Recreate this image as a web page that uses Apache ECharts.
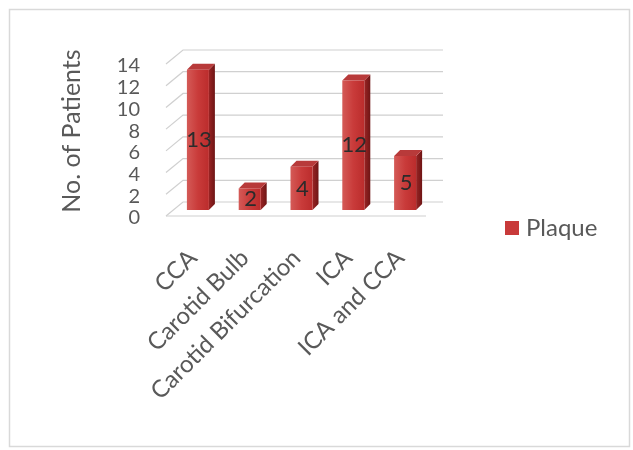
<!DOCTYPE html>
<html>
<head>
<meta charset="utf-8">
<script src="https://cdn.jsdelivr.net/npm/echarts@6/dist/echarts.min.js"></script>
<style>
html,body{margin:0;padding:0;background:#fff;}
#chart{width:633px;height:450px;}
</style>
</head>
<body>
<div id="chart"></div>
<script>
const categories = ['CCA', 'Carotid Bulb', 'Carotid Bifurcation', 'ICA', 'ICA and CCA'];
const plaqueValues = [13, 2, 4, 12, 5];
const yTicks = [0, 2, 4, 6, 8, 10, 12, 14];
const seriesName = 'Plaque';
const yAxisTitle = 'No. of Patients';

const FONT = 'Lato';
const TEXT_COLOR = '#595959';

const chart = echarts.init(document.getElementById('chart'));

function renderGrid(params, api) {
  const v = api.value(1);
  const cs = params.coordSys;
  const y = api.coord([0, v])[1] - 2;
  const gx = cs.x, W = cs.width;
  const dx = 17, dy = 14;
  const children = [{
    type: 'polyline',
    shape: { points: [[gx, y], [gx + dx, y - dy], [gx + dx + W, y - dy]] },
    style: { stroke: '#d0d0d0', lineWidth: 1.2, fill: null }
  }];
  if (v === 0) {
    children.push({
      type: 'line',
      shape: { x1: gx, y1: y, x2: gx + W, y2: y },
      style: { stroke: '#d0d0d0', lineWidth: 1.2 }
    });
  }
  return { type: 'group', children: children, silent: true };
}

function renderBar(params, api) {
  const cat = api.value(0), v = api.value(1);
  const top = api.coord([cat, v]);
  const base = api.coord([cat, 0]);
  const w = 22, dx = 6, dy = 6;
  const x0 = top[0] - w / 2, x1 = top[0] + w / 2;
  const yt = top[1], yb = base[1];
  return {
    type: 'group',
    children: [
      { type: 'polygon', shape: { points: [[x1, yt], [x1 + dx, yt - dy], [x1 + dx, yb - dy], [x1, yb]] },
        style: { fill: new echarts.graphic.LinearGradient(0, 0, 1, 0, [{offset: 0, color: '#9a2424'}, {offset: 1, color: '#6e1515'}]) } },
      { type: 'polygon', shape: { points: [[x0, yt], [x0 + dx, yt - dy], [x1 + dx, yt - dy], [x1, yt]] },
        style: { fill: '#b83a3a' } },
      { type: 'rect', shape: { x: x0, y: yt, width: w, height: yb - yt },
        style: { fill: new echarts.graphic.LinearGradient(0, 0, 1, 0, [{offset: 0, color: '#d45a57'}, {offset: 0.5, color: '#c93b3a'}, {offset: 1, color: '#bb2c2c'}]) } },
      { type: 'text', style: { text: String(v), x: top[0] + 1, y: (yt + yb) / 2, align: 'center', verticalAlign: 'middle',
        font: '22px ' + FONT, fill: '#2b2b2b' } }
    ]
  };
}

const option = {
  animation: false,
  backgroundColor: '#fff',
  graphic: [
    { type: 'rect', shape: { x: 9.5, y: 9.5, width: 620, height: 437 },
      style: { fill: null, stroke: '#d9d9d9', lineWidth: 1.5 }, z: -1 },
    { type: 'text', x: 72, y: 131, rotation: Math.PI / 2,
      style: { text: yAxisTitle, align: 'center', verticalAlign: 'middle', font: '25px ' + FONT, fill: TEXT_COLOR } }
  ],
  legend: {
    data: [seriesName], icon: 'rect', itemWidth: 14, itemHeight: 14,
    left: 505, top: 216, itemGap: 5, padding: 0,
    textStyle: { fontFamily: FONT, fontSize: 24, color: TEXT_COLOR, padding: [0, 0, 0, 2] }
  },
  grid: [
    { left: 166, top: 66, width: 260, height: 152 },
    { left: 172, top: 59, width: 259, height: 151 }
  ],
  xAxis: [
    { gridIndex: 0, type: 'category', data: categories, show: false },
    { gridIndex: 1, type: 'category', data: categories,
      axisLine: { show: false }, axisTick: { show: false },
      axisLabel: { rotate: 45, margin: 39, interval: 0, fontFamily: FONT, fontSize: 24, color: TEXT_COLOR,
        padding: [0, 7, 0, 0] } }
  ],
  yAxis: [
    { gridIndex: 0, type: 'value', min: yTicks[0], max: yTicks[yTicks.length - 1], interval: 2,
      axisLine: { show: false }, axisTick: { show: false }, splitLine: { show: false },
      axisLabel: { margin: 26, fontFamily: FONT, fontSize: 20, color: TEXT_COLOR,
        showMinLabel: true, showMaxLabel: true, hideOverlap: false } },
    { gridIndex: 1, type: 'value', min: yTicks[0], max: yTicks[yTicks.length - 1], interval: 2, show: false }
  ],
  series: [
    { type: 'custom', name: '_grid', xAxisIndex: 0, yAxisIndex: 0, silent: true, z: 1,
      renderItem: renderGrid, data: yTicks.map(t => [0, t]) },
    { type: 'custom', name: seriesName, xAxisIndex: 1, yAxisIndex: 1, z: 2,
      itemStyle: { color: '#c83a3a' },
      renderItem: renderBar, data: plaqueValues.map((v, i) => [i, v]) }
  ]
};
chart.setOption(option);
</script>
</body>
</html>
